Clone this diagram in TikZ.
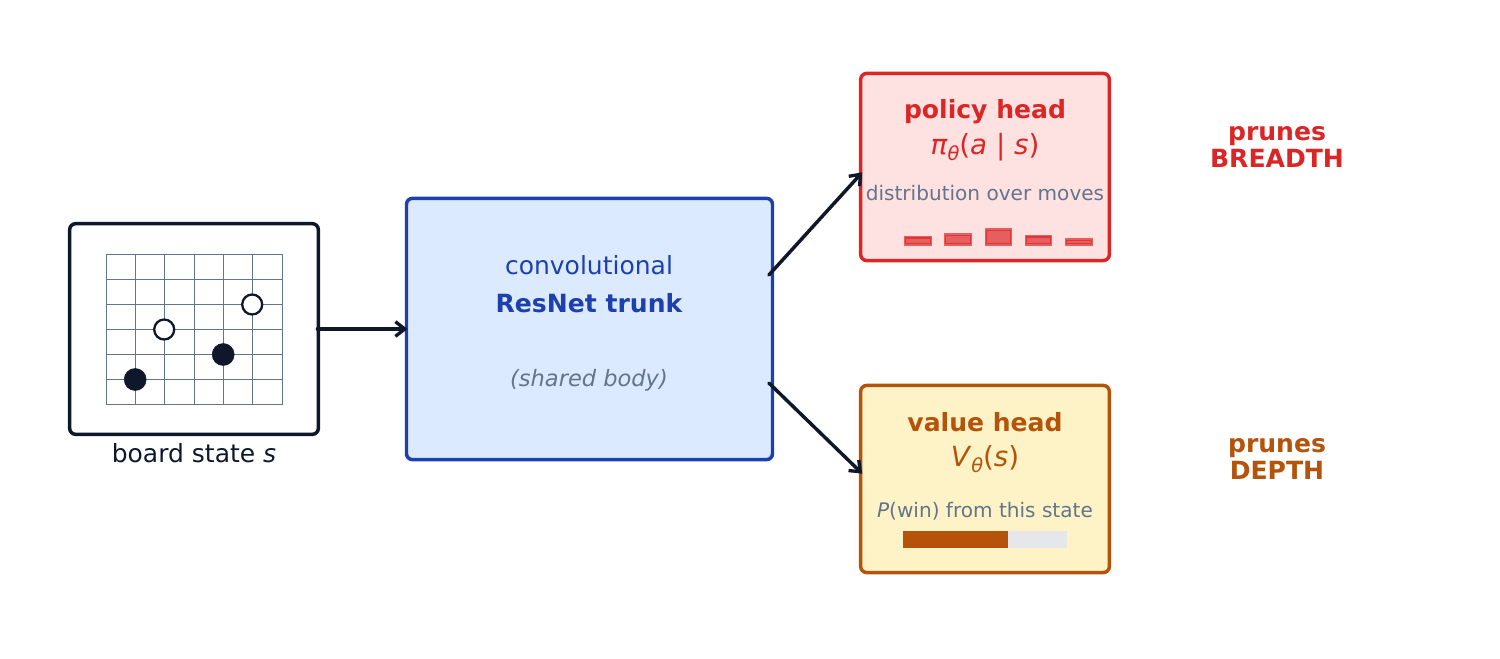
\documentclass[tikz,border=0pt]{standalone}
\usepackage{fontspec}
\usetikzlibrary{arrows.meta}
\setmainfont{DejaVu Sans}
\definecolor{inkdark}{HTML}{0F172A}
\definecolor{slategray}{HTML}{64748B}
\definecolor{trunkblue}{HTML}{1E40AF}
\definecolor{trunkfill}{HTML}{DBEAFE}
\definecolor{policyred}{HTML}{DC2626}
\definecolor{policyfill}{HTML}{FEE2E2}
\definecolor{valuebrown}{HTML}{B45309}
\definecolor{valuefill}{HTML}{FEF3C7}
\definecolor{barempty}{HTML}{E5E7EB}
\newcommand{\fsize}[1]{\fontsize{#1}{#1}\selectfont}
\newcommand{\subtheta}{\raisebox{-0.22em}{\fsize{14.5}\itshape θ}}

\begin{document}
\begin{tikzpicture}[x=0.75pt,y=-0.75pt,line cap=butt]
    \tikzstyle{panel}=[draw,rounded corners=4.5pt,line width=2.6pt,inner sep=0pt]
    \tikzstyle{flow}=[-{Straight Barb[length=7pt,width=11pt,line width=2.5pt]},line width=2.6pt,color=inkdark,line cap=round]
    \tikzstyle{stone}=[circle,inner sep=0pt,draw=inkdark]
    \tikzstyle{black stone}=[stone,fill=inkdark,line width=0.4pt,minimum size=16.5pt]
    \tikzstyle{white stone}=[stone,fill=white,line width=1.7pt,minimum size=15pt]
    \tikzstyle{title}=[font=\fsize{18.8}\bfseries,inner sep=0pt]
    \tikzstyle{formula}=[font=\fsize{20.8},inner sep=0pt]
    \tikzstyle{caption}=[font=\fsize{15.05}\color{slategray},inner sep=0pt]
    \tikzstyle{prune}=[font=\fsize{18.8}\bfseries,align=center,inner sep=0pt]
    \tikzstyle{move bar}=[draw=policyred,fill=policyred,line width=2pt,opacity=0.7]

    \useasboundingbox (0,0) rectangle (1500,659);

    % Draw the boxes
    \node[panel,draw=inkdark,fill=white,minimum width=186.5pt,minimum height=158pt] (board) at (194,329) {};
    \node[panel,draw=trunkblue,fill=trunkfill,minimum width=274.5pt,minimum height=196pt] (trunk) at (589.5,329) {};
    \node[panel,draw=policyred,fill=policyfill,minimum width=186.5pt,minimum height=140.3pt] (policy) at (985,167) {};
    \node[panel,draw=valuebrown,fill=valuefill,minimum width=186.5pt,minimum height=140.3pt] (value) at (985,479) {};

    % Draw the board grid
    \foreach \col in {0,...,6}
        \draw[slategray,line width=0.75pt] (106.2+\col*29.33,254.5) -- (106.2+\col*29.33,404.5);
    \foreach \row in {0,...,6}
        \draw[slategray,line width=0.75pt] (106.2,254.5+\row*25) -- (282.2,254.5+\row*25);

    % Draw the stones
    \foreach \name / \x / \y in {w1/252.2/304.5,w2/164.2/329.5}
        \node[white stone] (\name) at (\x,\y) {};
    \foreach \name / \x / \y in {b1/223.2/354.5,b2/135.2/379.5}
        \node[black stone] (\name) at (\x,\y) {};

    \node[font=\fsize{18.75},text=inkdark,inner sep=0pt] (boardlabel) at (194,453.5) {board state \textit{s}};

    % Annotate the trunk
    \node[font=\fsize{18.75},text=trunkblue,inner sep=0pt] (trunk1) at (589,265.5) {convolutional};
    \node[title,text=trunkblue] (trunk2) at (589,303) {ResNet trunk};
    \node[font=\fsize{16.9}\itshape,text=slategray,inner sep=0pt] (trunk3) at (589,380) {(shared body)};

    % Annotate the policy head
    \node[title,text=policyred] (policy1) at (985,111.5) {policy head};
    \node[formula,text=policyred] (policy2) at (985,147.5) {\textit{π}\subtheta(\textit{a} | \textit{s})};
    \node[caption] (policy3) at (985,193) {distribution over moves};

    % Draw the move bars
    \foreach \xa / \xb / \ytop in {905/931/237.5,945/971/234.6,986/1011/229.6,1026/1051/236.3,1066/1092/239.6}
        \draw[move bar] (\xa,\ytop) rectangle (\xb,244.3);

    % Annotate the value head
    \node[title,text=valuebrown] (value1) at (985,422.5) {value head};
    \node[formula,text=valuebrown] (value2) at (985,459.5) {\textit{V}\subtheta(\textit{s})};
    \node[caption] (value3) at (985,511) {\textit{P}(win) from this state};

    % Draw the win bar
    \fill[barempty] (1008,531) rectangle (1067,548);
    \fill[valuebrown] (903,531) rectangle (1008,548);

    % Annotate the pruning
    \node[prune,text=policyred] (breadth) at (1277,147) {prunes\\[2pt]BREADTH};
    \node[prune,text=valuebrown] (depth) at (1277,459) {prunes\\[2pt]DEPTH};

    % Connect the boxes
    \draw[flow] ([xshift=-2pt]board.east) -- ([xshift=2pt]trunk.west);
    \draw[flow] ([xshift=-4pt,yshift=40.5pt]trunk.east) -- ([xshift=2.5pt,yshift=-4pt]policy.west);
    \draw[flow] ([xshift=-4pt,yshift=-40.5pt]trunk.east) -- ([xshift=2.5pt,yshift=4pt]value.west);
\end{tikzpicture}
\end{document}
